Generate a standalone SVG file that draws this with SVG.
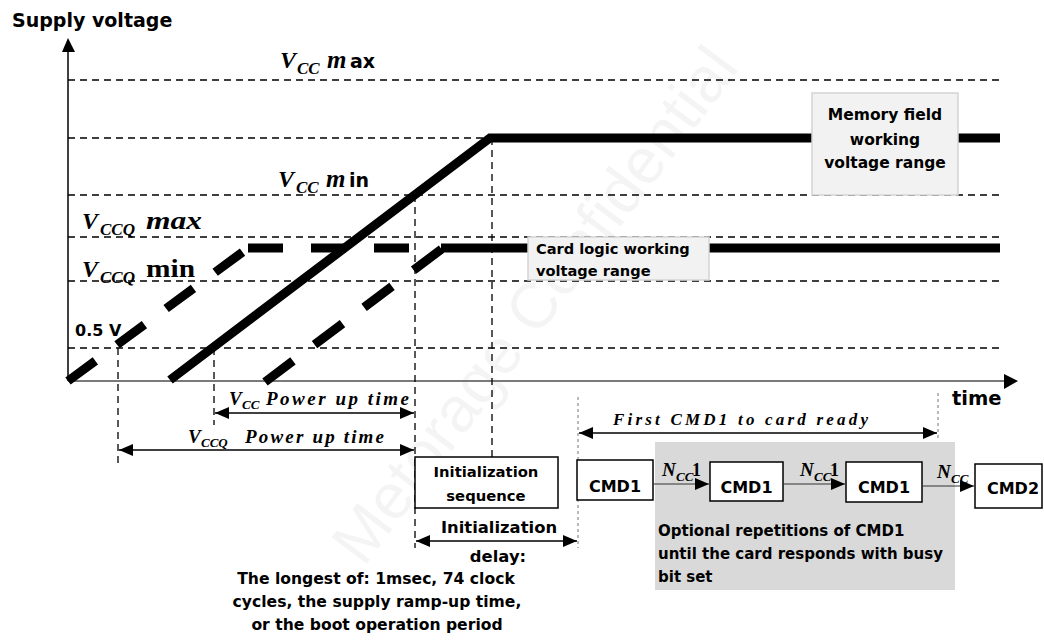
<svg xmlns="http://www.w3.org/2000/svg" width="1044" height="642" viewBox="0 0 1044 642">
<style>
.dash{stroke:#000;stroke-width:1.3;stroke-dasharray:7 5;fill:none}
.dot{stroke:#777;stroke-width:1;stroke-dasharray:3 3;fill:none}
.thick{stroke:#000;stroke-width:9;fill:none;stroke-linejoin:miter}
.thin{stroke:#000;stroke-width:1.5;fill:none}
.sans{font-family:"DejaVu Sans","Liberation Sans",sans-serif;font-weight:bold;fill:#000}
.math{font-family:"Liberation Serif",serif;font-style:italic;font-weight:bold;fill:#000}
.box{fill:#fff;stroke:#000;stroke-width:1.5}
.lbox{fill:#f2f2f2;stroke:#d4d4d4;stroke-width:1.5}
</style>
<defs>
<marker id="ah" viewBox="0 0 14 12" markerWidth="14" markerHeight="12" refX="14" refY="6" orient="auto-start-reverse" markerUnits="userSpaceOnUse">
<path d="M0,0 L14,6 L0,12 z" fill="#000"/>
</marker>
</defs>
<rect width="1044" height="642" fill="#fff"/>
<text x="552" y="318" transform="rotate(-53 552 318)" text-anchor="middle" font-family="Liberation Sans, sans-serif" font-size="64" fill="#000" fill-opacity="0.045">Metorage Confidential</text>

<g id="axes">
<line x1="68" y1="381" x2="68" y2="50" stroke="#000" stroke-width="1.5"/>
<path d="M68,38 L62,52 L75,52 z" fill="#000"/>
<line x1="68" y1="381" x2="1006" y2="381" stroke="#7a7a7a" stroke-width="2"/>
<path d="M1018,381 L1004,374 L1004,389 z" fill="#000"/>
<text class="sans" x="12" y="27" font-size="19">Supply voltage</text>
<text class="sans" x="952" y="405" font-size="19.5">time</text>
</g>

<g id="levels">
<line class="dash" x1="68" y1="80" x2="1000" y2="80"/>
<line class="dash" x1="68" y1="138" x2="1000" y2="138"/>
<line class="dash" x1="68" y1="195" x2="1000" y2="195"/>
<line class="dash" x1="68" y1="237" x2="1000" y2="237"/>
<line class="dash" x1="68" y1="281" x2="1000" y2="281"/>
<line class="dash" x1="68" y1="348" x2="1000" y2="348"/>
<text class="math" y="68"><tspan x="280" font-size="24">V</tspan><tspan x="297" y="74" font-size="17">CC</tspan><tspan x="327" y="68" font-size="25">m</tspan></text>
<text class="sans" x="350" y="68" font-size="19">ax</text>
<text class="math" y="187"><tspan x="278" font-size="24">V</tspan><tspan x="296" y="193" font-size="17">CC</tspan><tspan x="326" y="187" font-size="25">m</tspan></text>
<text class="sans" x="349" y="187" font-size="19">in</text>
<text class="math" y="229"><tspan x="82" font-size="24">V</tspan><tspan x="100" y="235" font-size="17">CCQ</tspan></text>
<text class="math" x="146" y="229" font-size="26" textLength="56" lengthAdjust="spacingAndGlyphs">max</text>
<text class="math" y="277"><tspan x="82" font-size="24">V</tspan><tspan x="100" y="283" font-size="17">CCQ</tspan></text>
<text x="146" y="277" font-size="25" textLength="49" lengthAdjust="spacingAndGlyphs" font-family="Liberation Serif, serif" font-weight="bold">min</text>
<text class="sans" x="75" y="336" font-size="16">0.5 V</text>
</g>

<g id="guides">
<line class="dash" x1="118" y1="348" x2="118" y2="467"/>
<line class="dash" x1="214" y1="348" x2="214" y2="425"/>
<line class="dash" x1="415" y1="195" x2="415" y2="548"/>
<line class="dash" x1="492" y1="138" x2="492" y2="457"/>
<line class="dot" x1="578" y1="397" x2="578" y2="548"/>
<line class="dot" x1="938" y1="393" x2="938" y2="440"/>
</g>

<g id="curves">
<path class="thick" d="M170,380 L490,138 L1000,138"/>
<path class="thick" d="M68,381 L248,248" stroke-dasharray="34 27"/>
<path class="thick" d="M248,248 L409,248" stroke-dasharray="35 28"/>
<path class="thick" d="M265,382 L443,248" stroke-dasharray="35 27"/>
<path class="thick" d="M441,248 L1000,248"/>
</g>

<g id="node-memory">
<rect class="lbox" x="812" y="93" width="146" height="102"/>
<text class="sans" text-anchor="middle" font-size="15.5"><tspan x="885" y="120">Memory field</tspan><tspan x="885" y="145">working</tspan><tspan x="885" y="168">voltage range</tspan></text>
</g>

<g id="node-cardlogic">
<rect class="lbox" x="528" y="237" width="181" height="43"/>
<text class="sans" font-size="14.6"><tspan x="536" y="254">Card logic working</tspan><tspan x="536" y="276">voltage range</tspan></text>
</g>

<g id="node-gray">
<rect x="655" y="442" width="300" height="148" fill="#d9d9d9"/>
<text class="sans" font-size="15"><tspan x="658" y="536">Optional repetitions of CMD1</tspan><tspan x="658" y="559">until the card responds with busy</tspan><tspan x="658" y="582">bit set</tspan></text>
</g>

<g id="node-init">
<rect class="box" x="415" y="457" width="143" height="51"/>
<text class="sans" text-anchor="middle" font-size="14.8"><tspan x="486" y="477">Initialization</tspan><tspan x="486" y="501">sequence</tspan></text>
</g>

<g id="node-cmd1a">
<rect class="box" x="577" y="460" width="76" height="40"/>
<text class="sans" x="615" y="492" text-anchor="middle" font-size="16">CMD1</text>
</g>
<g id="node-cmd1b">
<rect class="box" x="710" y="462" width="73" height="39"/>
<text class="sans" x="746.5" y="493" text-anchor="middle" font-size="16">CMD1</text>
</g>
<g id="node-cmd1c">
<rect class="box" x="846" y="462" width="76" height="40"/>
<text class="sans" x="884" y="493" text-anchor="middle" font-size="16">CMD1</text>
</g>
<g id="node-cmd2">
<rect class="box" x="975" y="464" width="67" height="44"/>
<text class="sans" x="1013" y="494" text-anchor="middle" font-size="16">CMD2</text>
</g>

<g id="connectors">
<line class="thin" x1="215" y1="413" x2="414" y2="413" marker-start="url(#ah)" marker-end="url(#ah)"/>
<line class="thin" x1="119" y1="450" x2="414" y2="450" marker-start="url(#ah)" marker-end="url(#ah)"/>
<line class="thin" x1="416" y1="541" x2="577" y2="541" marker-start="url(#ah)" marker-end="url(#ah)"/>
<line class="thin" x1="579" y1="433" x2="937" y2="433" marker-start="url(#ah)" marker-end="url(#ah)"/>
<line x1="653" y1="484" x2="709" y2="484" stroke="#333" stroke-width="1" marker-end="url(#ah)"/>
<line x1="783" y1="484" x2="845" y2="484" stroke="#333" stroke-width="1" marker-end="url(#ah)"/>
<line x1="922" y1="486" x2="974" y2="486" stroke="#333" stroke-width="1" marker-end="url(#ah)"/>
</g>

<g id="labels">
<text class="math" y="405"><tspan x="229" font-size="19">V</tspan><tspan x="242" y="409" font-size="13">CC</tspan></text>
<text class="math" x="266" y="405" font-size="19" textLength="143" lengthAdjust="spacing">Power up time</text>
<text class="math" y="443"><tspan x="188" font-size="19">V</tspan><tspan x="201" y="447" font-size="13">CCQ</tspan></text>
<text class="math" x="245" y="443" font-size="19" textLength="139" lengthAdjust="spacing">Power up time</text>
<text class="math" x="613" y="425" font-size="17" textLength="255" lengthAdjust="spacing">First CMD1 to card ready</text>
<text class="math" y="476"><tspan x="662" font-size="19">N</tspan><tspan x="676" y="481" font-size="13">CC</tspan></text>
<text x="692" y="476" font-family="Liberation Serif, serif" font-weight="bold" font-size="18">1</text>
<text class="math" y="476"><tspan x="800" font-size="19">N</tspan><tspan x="814" y="481" font-size="13">CC</tspan></text>
<text x="830" y="476" font-family="Liberation Serif, serif" font-weight="bold" font-size="18">1</text>
<text class="math" y="478"><tspan x="937" font-size="19">N</tspan><tspan x="951" y="483" font-size="13">CC</tspan></text>
<text class="sans" text-anchor="middle" font-size="16.4"><tspan x="499" y="533">Initialization</tspan><tspan x="498" y="562">delay:</tspan></text>
<text class="sans" text-anchor="middle" font-size="15.6"><tspan x="376" y="584">The longest of: 1msec, 74 clock</tspan><tspan x="377" y="607">cycles, the supply ramp-up time,</tspan><tspan x="377" y="630">or the boot operation period</tspan></text>
</g>
</svg>
